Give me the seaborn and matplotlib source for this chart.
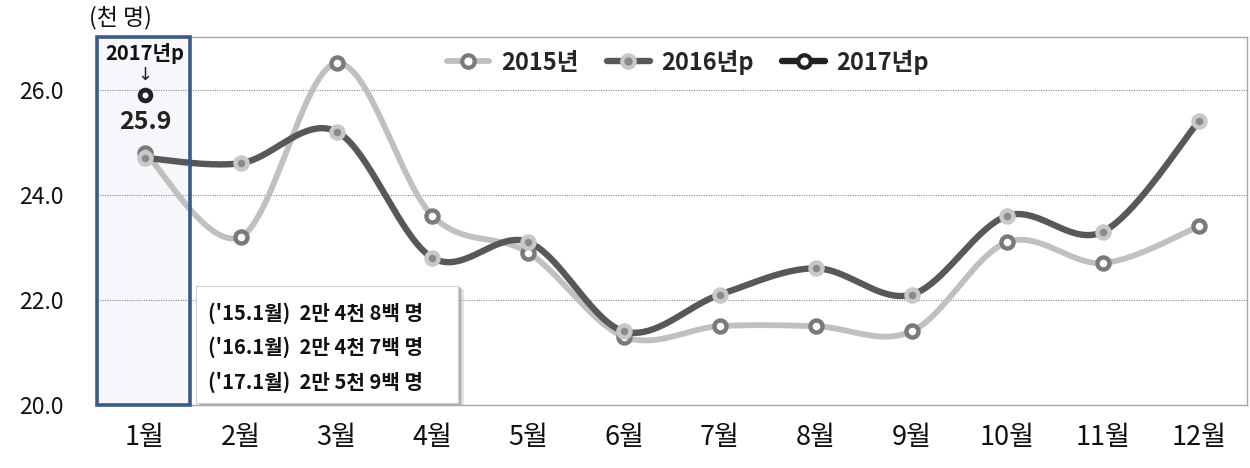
import numpy as np
import pandas as pd
import matplotlib
matplotlib.use("Agg")
import matplotlib.pyplot as plt
import seaborn as sns
from matplotlib.patches import Rectangle
from matplotlib.lines import Line2D

# ---------------- data ----------------
months = ["1월", "2월", "3월", "4월", "5월", "6월", "7월", "8월", "9월", "10월", "11월", "12월"]
v2015 = [24.8, 23.2, 26.5, 23.6, 22.9, 21.3, 21.5, 21.5, 21.4, 23.1, 22.7, 23.4]
v2016 = [24.7, 24.6, 25.2, 22.8, 23.1, 21.4, 22.1, 22.6, 22.1, 23.6, 23.3, 25.4]
v2017 = [25.9]
series_names = ["2015년", "2016년p", "2017년p"]
yticks = [20.0, 22.0, 24.0, 26.0]
unit_label = "(천 명)"
box_title = "2017년p"
note_lines = ["('15.1월)  2만 4천 8백 명",
              "('16.1월)  2만 4천 7백 명",
              "('17.1월)  2만 5천 9백 명"]

# ---------------- style ----------------
sns.set_theme(style="white")
plt.rcParams['font.family'] = ['Noto Sans CJK KR', 'DejaVu Sans']
plt.rcParams['axes.unicode_minus'] = False

c15_line, c15_edge = "#c0c0c0", "#7a7a7a"
c16_line, c16_face, c16_edge = "#585858", "#8a8a8a", "#c8c8c8"
c17 = "#222222"
box_blue = "#3a5a88"


def smooth(vals, n=40):
    """Excel-like smoothed line (Catmull-Rom as cubic Bezier)."""
    y = np.asarray(vals, float)
    x = np.arange(len(y), dtype=float)
    P = np.column_stack([x, y])
    out = []
    t = np.linspace(0, 1, n)
    for i in range(len(P) - 1):
        p0 = P[i - 1] if i > 0 else P[i]
        p1, p2 = P[i], P[i + 1]
        p3 = P[i + 2] if i + 2 < len(P) else P[i + 1]
        c1 = p1 + (p2 - p0) / 6.0
        c2 = p2 - (p3 - p1) / 6.0
        seg = ((1 - t)[:, None] ** 3 * p1 + 3 * ((1 - t) ** 2 * t)[:, None] * c1
               + 3 * ((1 - t) * t ** 2)[:, None] * c2 + (t ** 3)[:, None] * p2)
        out.append(seg if i == 0 else seg[1:])
    out = np.vstack(out)
    return out[:, 0], out[:, 1]


fig = plt.figure(figsize=(12.5, 4.68), dpi=100)
ax = fig.add_axes([0.0776, 0.1346, 0.92, 0.7863])

xpos = np.arange(len(months))
df = pd.DataFrame({"x": xpos, "m": months, "v2015": v2015, "v2016": v2016})

# highlight box for January
ax.add_patch(Rectangle((-0.5, 20.0), 0.97, 7.0, facecolor="#f6f6fb", edgecolor="none", zorder=0.5))
ax.add_patch(Rectangle((-0.5, 20.0), 0.97, 7.0, facecolor="none", edgecolor=box_blue,
                       linewidth=2.6, zorder=6, clip_on=False))

# smoothed lines
sx, sy = smooth(v2015)
sns.lineplot(x=sx, y=sy, ax=ax, color=c15_line, linewidth=4.2, sort=False, estimator=None, zorder=2)
sx, sy = smooth(v2016)
sns.lineplot(x=sx, y=sy, ax=ax, color=c16_line, linewidth=4.6, sort=False, estimator=None, zorder=4)

# markers
sns.scatterplot(data=df, x="x", y="v2015", ax=ax, s=75, marker="o", facecolor="white",
                edgecolor=c15_edge, linewidth=3.2, zorder=3)
sns.scatterplot(data=df, x="x", y="v2016", ax=ax, s=75, marker="o", facecolor=c16_face,
                edgecolor=c16_edge, linewidth=3.2, zorder=5)
sns.scatterplot(x=xpos[:len(v2017)], y=v2017, ax=ax, s=60, marker="o", facecolor="white",
                edgecolor=c17, linewidth=3.4, zorder=7)

# annotations inside January box
ax.text(0, 26.68, box_title, ha="center", va="center", fontsize=14.5, fontweight="bold",
        color="#111111", zorder=8)
ax.text(0, 26.27, "↓", ha="center", va="center", fontsize=13, color="#222222", zorder=8,
        family=['DejaVu Sans'])
ax.text(0, 25.38, f"{v2017[0]:.1f}", ha="center", va="center", fontsize=18, fontweight="bold",
        color="#222222", zorder=8)

# note box (with soft shadow)
for off, a in [(0.06, 0.25), (0.045, 0.35), (0.03, 0.5)]:
    ax.add_patch(Rectangle((0.533 + off, 20.04 - off * 1.1), 2.734, 2.23, facecolor="#9a9a9a",
                           edgecolor="none", zorder=7, alpha=a))
ax.add_patch(Rectangle((0.533, 20.04), 2.734, 2.23, facecolor="white", edgecolor="#d0d0d0",
                       linewidth=0.8, zorder=8))
for yy, line in zip([21.75, 21.10, 20.44], note_lines):
    ax.text(0.655, yy, line, ha="left", va="center", fontsize=14.5, fontweight="bold",
            color="#111111", zorder=9)

# axes formatting
ax.set_xlim(-0.5, 11.5)
ax.set_ylim(20.0, 27.0)
ax.set_xticks(xpos)
ax.set_xticklabels(months, fontsize=19.5, color="#111111")
ax.set_yticks(yticks)
ax.set_yticklabels([f"{t:.1f}" for t in yticks], fontsize=16.5, color="#111111")
ax.set_xlabel("")
ax.set_ylabel("")
ax.tick_params(axis="y", length=0, pad=24)
ax.tick_params(axis="x", direction="in", length=4, color="#a0a0a0", pad=14)
ax.yaxis.grid(True, linestyle=(0, (1, 1.2)), color="#8a8a8a", linewidth=0.8)
ax.set_axisbelow(True)
for side in ["top", "right", "bottom", "left"]:
    ax.spines[side].set_visible(True)
    ax.spines[side].set_color("#a8a8a8")
    ax.spines[side].set_linewidth(1.0)

# legend
handles = [
    Line2D([], [], color=c15_line, linewidth=4.2, marker="o", markersize=9,
           markerfacecolor="white", markeredgecolor=c15_edge, markeredgewidth=3),
    Line2D([], [], color=c16_line, linewidth=4.6, marker="o", markersize=9,
           markerfacecolor=c16_face, markeredgecolor=c16_edge, markeredgewidth=3),
    Line2D([], [], color=c17, linewidth=4.6, marker="o", markersize=9,
           markerfacecolor="white", markeredgecolor=c17, markeredgewidth=3),
]
leg = ax.legend(handles, series_names, loc="center", bbox_to_anchor=(0.514, 0.932), ncol=3,
                frameon=False, handlelength=1.8, handletextpad=0.5, columnspacing=1.2,
                prop={"family": ['Noto Sans CJK KR', 'DejaVu Sans'], "weight": "bold", "size": 17})

fig.text(0.071, 0.962, unit_label, ha="left", va="center", fontsize=16.5, color="#111111")

fig.savefig("out.png", dpi=100)
